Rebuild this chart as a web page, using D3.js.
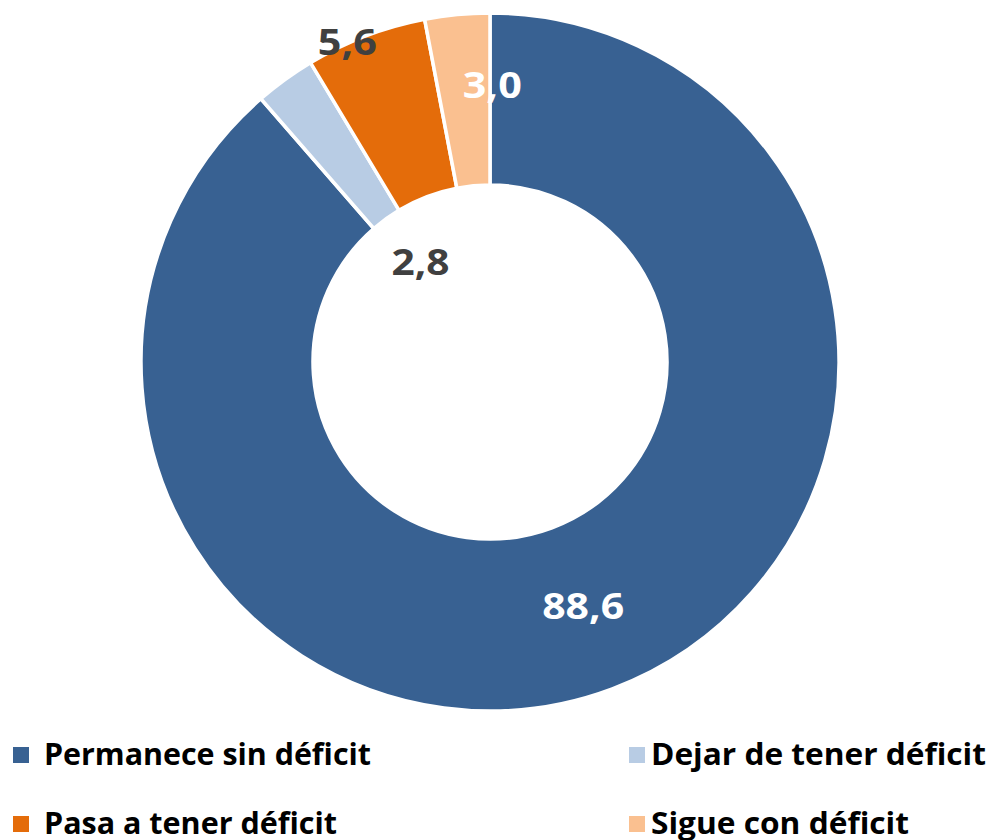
<!DOCTYPE html>
<html>
<head>
<meta charset="utf-8">
<script src="https://cdn.jsdelivr.net/npm/d3@7"></script>
<style>
  body { margin: 0; background: #fff; }
  text { font-family: "Open Sans", "DejaVu Sans", sans-serif; font-weight: 700; }
</style>
</head>
<body>
<div id="chart"></div>
<script>
// Donut: situación de déficit

const categories = ["Permanece sin déficit", "Dejar de tener déficit", "Pasa a tener déficit", "Sigue con déficit"];
const values = [88.6, 2.8, 5.6, 3.0];
const valueLabels = ["88,6", "2,8", "5,6", "3,0"];

const width = 990, height = 840;
const cx = 490, cy = 362,
    outerR = 349, innerR = 177;

const colors = d3.scaleOrdinal()
    .domain(categories)
    .range(["#386192", "#b8cce4", "#e46c0a", "#fac090"]);

// label styling (manually moved labels, like the original)
const labelFill = ["#ffffff", "#404040", "#404040", "#ffffff"];
const labelShift = [[1, -1], [85, 114], [-49, -73], [27, -14]];
const labelWidth = [82, 58, 59, 59];

// legend layout
const legendCols = [13, 629], legendRows = [747, 816];
const legendTextWidth = [327, 335, 293, 258];

let svg = d3.select("#chart")
    .append("svg")
    .attr("width", width)
    .attr("height", height);

let pie = d3.pie()
    .sort(null)
    .value(d => d.value);

let arc = d3.arc()
    .innerRadius(innerR)
    .outerRadius(outerR);

let data = categories.map((c, i) => ({cat: c, value: values[i], label: valueLabels[i], i: i}));
let arcs = pie(data);

let g = svg.append("g")
    .attr("transform", `translate(${cx},${cy})`);

g.selectAll("path")
    .data(arcs)
    .join("path")
    .attr("d", arc)
    .attr("fill", d => colors(d.data.cat))
    .attr("stroke", "#fff")
    .attr("stroke-width", 3.5)
    .attr("stroke-linejoin", "miter");

g.selectAll(".lbl")
    .data(arcs)
    .join("text")
    .attr("class", "lbl")
    .attr("x", d => arc.centroid(d)[0] + labelShift[d.data.i][0])
    .attr("y", d => arc.centroid(d)[1] + labelShift[d.data.i][1] + 12)
    .attr("text-anchor", "middle")
    .attr("textLength", d => labelWidth[d.data.i])
    .attr("lengthAdjust", "spacingAndGlyphs")
    .style("font-size", "36px")
    .style("fill", d => labelFill[d.data.i])
    .text(d => d.data.label);

// legend, two columns
let legend = svg.selectAll(".legend")
    .data(data)
    .join("g")
    .attr("class", "legend")
    .attr("transform", d => `translate(${legendCols[d.i % 2]},${legendRows[Math.floor(d.i / 2)]})`);

legend.append("rect")
    .attr("width", 16)
    .attr("height", 16)
    .attr("fill", d => colors(d.cat));

legend.append("text")
    .attr("x", d => d.i % 2 === 0 ? 31 : 22)
    .attr("y", 18)
    .attr("textLength", d => legendTextWidth[d.i])
    .attr("lengthAdjust", "spacingAndGlyphs")
    .style("font-size", "31px")
    .style("fill", "#000")
    .text(d => d.cat);
</script>
</body>
</html>
